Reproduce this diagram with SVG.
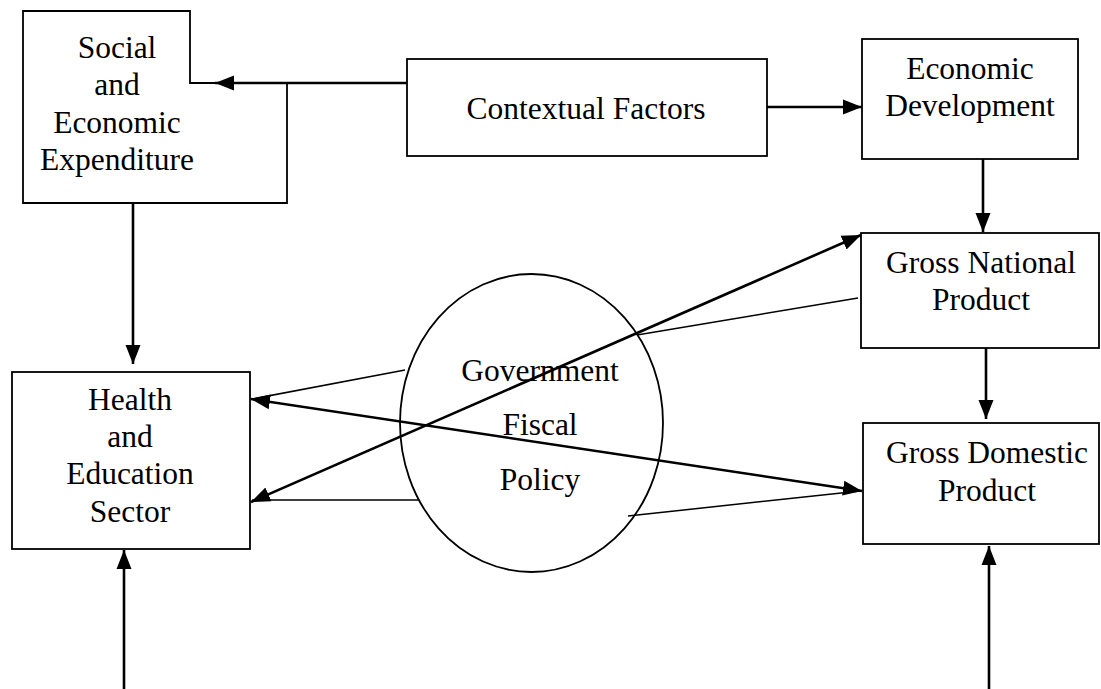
<svg xmlns="http://www.w3.org/2000/svg" width="1101" height="689" viewBox="0 0 1101 689">
<style>
.box{fill:none;stroke:#000;stroke-width:1.8}
.t{font-family:"Liberation Serif","Times New Roman",serif;font-size:31.5px;fill:#000;text-anchor:middle}
.thick{stroke:#000;stroke-width:2.6;fill:none}
.thin{stroke:#000;stroke-width:1.5;fill:none}
</style>
<defs>
<marker id="ah" markerUnits="userSpaceOnUse" markerWidth="20" markerHeight="16" refX="19" refY="8" orient="auto-start-reverse" viewBox="0 0 20 16">
<path d="M0,0.5 L19,8 L0,15.5 z" fill="#000"/>
</marker>
</defs>
<rect width="1101" height="689" fill="#fff"/>
<g id="social">
<path class="box" d="M23,11 L190,11 L190,83 L287,83 L287,203 L23,203 Z"/>
<text class="t" x="117" y="58">Social</text>
<text class="t" x="117" y="95">and</text>
<text class="t" x="117" y="133">Economic</text>
<text class="t" x="117" y="170">Expenditure</text>
</g>
<g id="contextual">
<rect class="box" x="407" y="59" width="360" height="97"/>
<text class="t" x="586" y="119">Contextual Factors</text>
</g>
<g id="econdev">
<rect class="box" x="862" y="39" width="216" height="120"/>
<text class="t" x="970" y="79">Economic</text>
<text class="t" x="970" y="116">Development</text>
</g>
<g id="gnp">
<rect class="box" x="861" y="233" width="238" height="115"/>
<text class="t" x="981" y="273">Gross National</text>
<text class="t" x="981" y="310">Product</text>
</g>
<g id="gdp">
<rect class="box" x="863" y="423" width="236" height="121"/>
<text class="t" x="987" y="463">Gross Domestic</text>
<text class="t" x="987" y="501">Product</text>
</g>
<g id="health">
<rect class="box" x="12" y="372" width="238" height="177"/>
<text class="t" x="130" y="410">Health</text>
<text class="t" x="130" y="447">and</text>
<text class="t" x="130" y="484">Education</text>
<text class="t" x="130" y="522">Sector</text>
</g>
<g id="policy">
<ellipse cx="531.5" cy="423" rx="131.5" ry="149" fill="none" stroke="#000" stroke-width="1.8"/>
<text class="t" x="540" y="381">Government</text>
<text class="t" x="540" y="435">Fiscal</text>
<text class="t" x="540" y="490">Policy</text>
</g>
<g id="connectors">
<line class="thick" x1="407" y1="83" x2="215" y2="83" marker-end="url(#ah)"/>
<line class="thick" x1="767" y1="107" x2="862" y2="107" marker-end="url(#ah)"/>
<line class="thick" x1="983" y1="159" x2="983" y2="232" marker-end="url(#ah)"/>
<line class="thick" x1="986" y1="348" x2="986" y2="419" marker-end="url(#ah)"/>
<line class="thick" x1="989" y1="689" x2="989" y2="546" marker-end="url(#ah)"/>
<line class="thick" x1="133" y1="203" x2="133" y2="364" marker-end="url(#ah)"/>
<line class="thick" x1="124" y1="689" x2="124" y2="550" marker-end="url(#ah)"/>
<line class="thin" x1="405" y1="370" x2="252" y2="399"/>
<line class="thin" x1="418" y1="500" x2="252" y2="500"/>
<line class="thin" x1="858" y1="298" x2="637" y2="335"/>
<line class="thin" x1="628" y1="516" x2="860" y2="491"/>
<line class="thick" x1="251" y1="399" x2="862" y2="491" marker-start="url(#ah)" marker-end="url(#ah)"/>
<line class="thick" x1="251" y1="502" x2="861" y2="235" marker-start="url(#ah)" marker-end="url(#ah)"/>
</g>
</svg>
